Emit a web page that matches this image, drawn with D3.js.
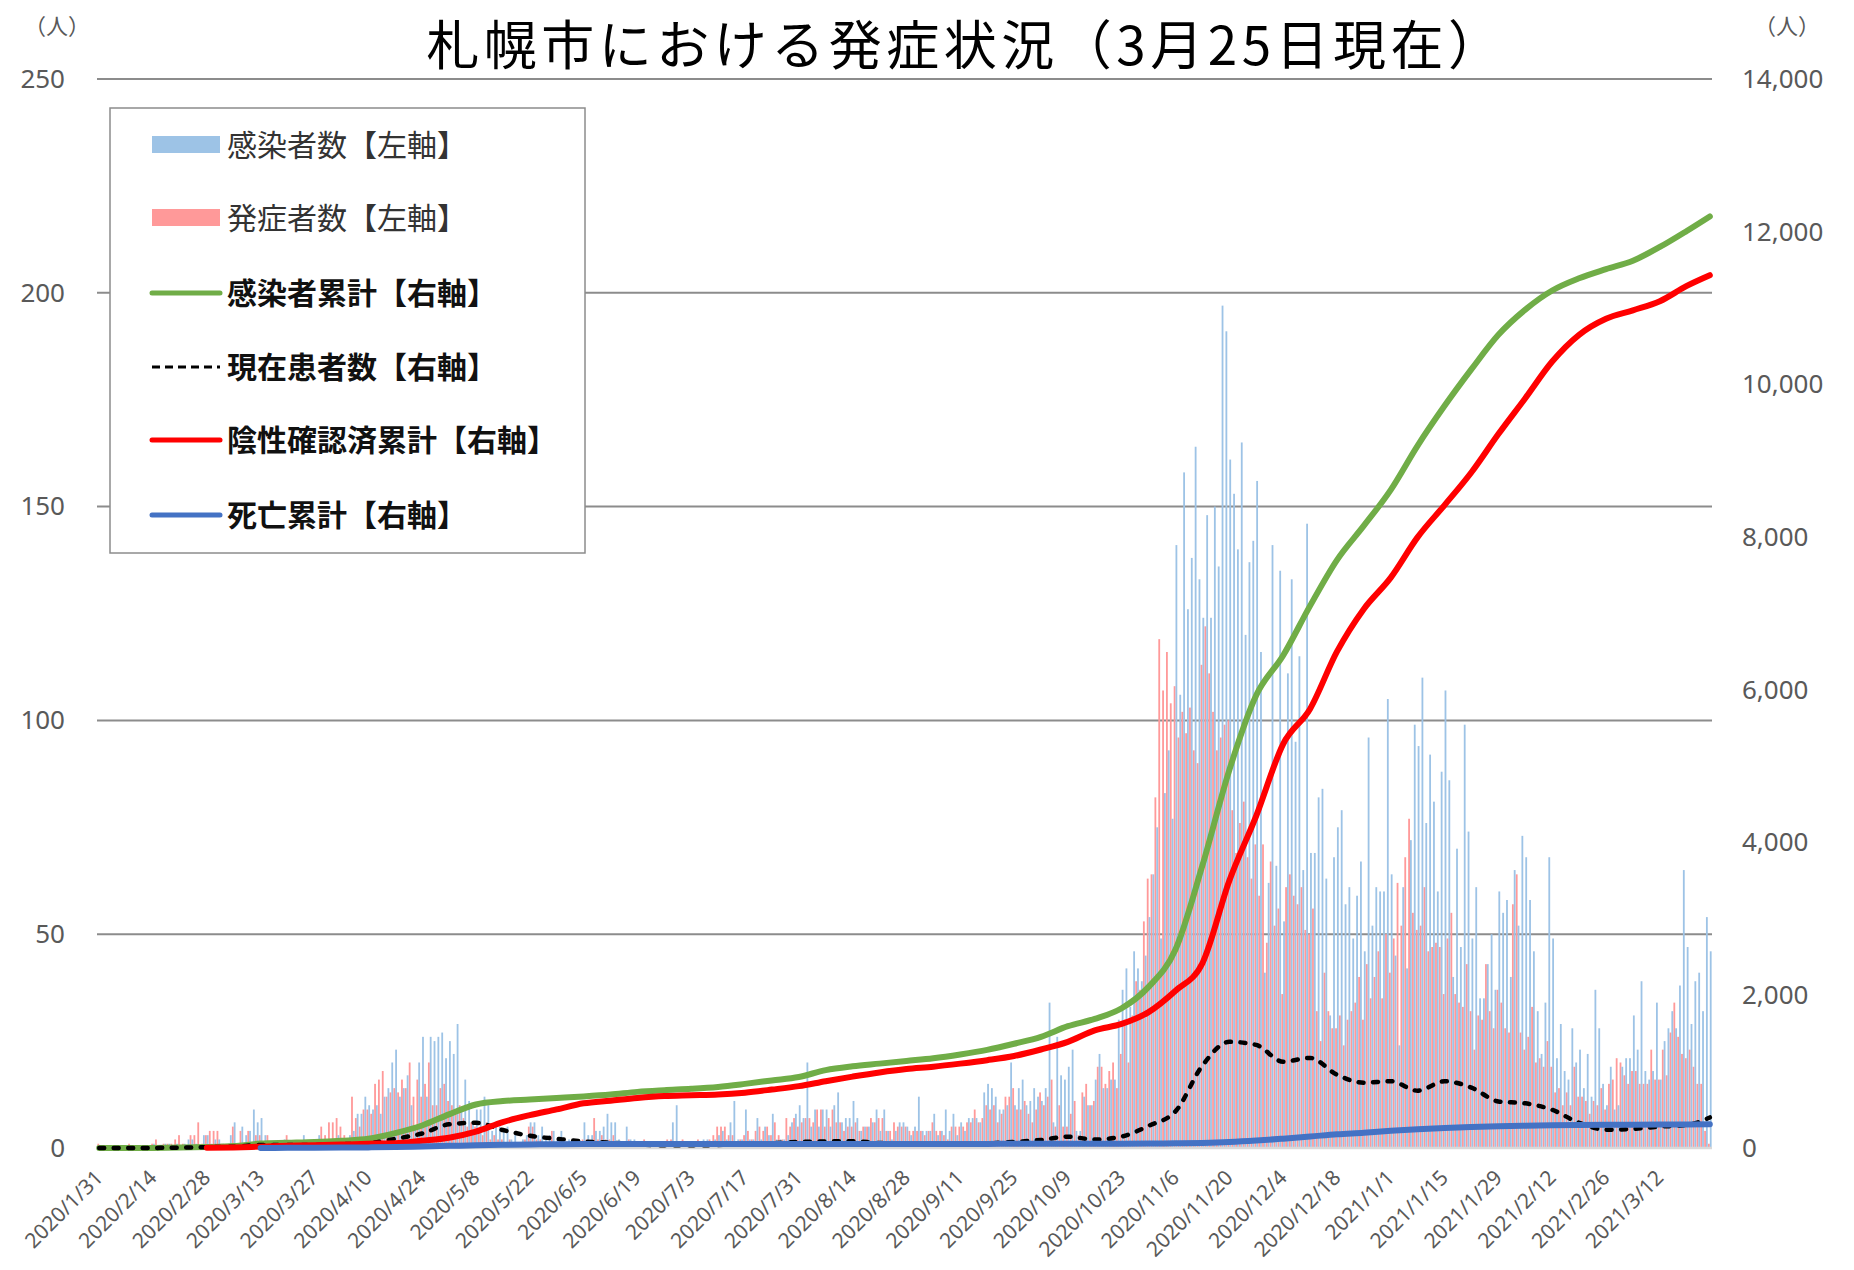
<!DOCTYPE html>
<html><head><meta charset="utf-8">
<script src="https://cdn.jsdelivr.net/npm/d3@7"></script>
<style>body{margin:0;background:#fff}svg{display:block}</style>
</head><body>
<svg id="c" width="1854" height="1270"></svg>
<script>
// ---------------- data ----------------
const titleText = "札幌市における発症状況（3月25日現在）";
const tickLabels = ["2020/1/31","2020/2/14","2020/2/28","2020/3/13","2020/3/27","2020/4/10","2020/4/24","2020/5/8","2020/5/22","2020/6/5","2020/6/19","2020/7/3","2020/7/17","2020/7/31","2020/8/14","2020/8/28","2020/9/11","2020/9/25","2020/10/9","2020/10/23","2020/11/6","2020/11/20","2020/12/4","2020/12/18","2021/1/1","2021/1/15","2021/1/29","2021/2/12","2021/2/26","2021/3/12"];
const leftTicks = [0,50,100,150,200,250];
const rightTicks = [0,2000,4000,6000,8000,10000,12000,14000];

// 感染者数 (daily, left axis) 2020/1/31 .. 2021/3/25
const infected = [
0,0,0,0,0,0,0,0,0,0,0,0,0,0,
1,0,0,1,1,0,1,0,1,2,2,1,0,3,
3,1,2,2,1,0,3,6,1,5,3,4,9,6,
7,3,1,1,0,1,2,0,0,0,1,3,0,0,
0,3,1,2,1,2,3,2,1,3,4,8,8,12,
10,9,10,8,12,14,20,23,12,14,17,10,5,20,
26,12,26,25,26,27,21,25,22,29,9,16,11,6,
9,9,12,10,4,6,5,4,5,2,3,1,2,3,
6,6,3,5,2,3,4,2,4,1,2,1,0,1,
6,3,3,4,4,5,8,6,6,2,1,5,2,2,
0,1,0,0,0,1,0,0,1,6,10,1,0,1,
0,0,1,2,2,1,2,3,4,2,6,11,2,2,
9,2,2,7,2,5,3,8,2,2,2,3,6,8,
10,7,20,5,9,5,9,9,5,10,13,6,7,7,
11,7,4,5,5,6,9,4,9,4,2,4,6,6,
5,3,5,12,4,4,4,8,3,4,9,4,8,3,
6,4,7,7,7,6,13,15,14,12,9,9,10,20,
10,14,16,10,11,14,12,11,14,34,6,26,17,16,
19,23,4,4,12,10,10,16,22,14,14,16,16,30,
37,42,33,46,42,39,45,54,64,75,49,83,93,77,
141,106,158,126,138,164,133,124,148,124,150,136,197,191,
161,153,140,165,120,137,142,156,116,41,62,141,66,135,
53,111,133,95,115,65,146,69,69,82,84,63,31,68,
75,79,57,61,49,59,67,46,96,52,61,60,60,105,
64,45,24,61,42,72,99,94,110,76,92,81,60,88,
107,86,40,70,47,99,74,49,61,35,35,43,50,37,
60,55,58,40,65,52,73,68,58,46,32,22,34,68,
49,21,29,18,16,28,20,23,14,22,12,37,28,15,
10,19,9,10,19,21,21,31,23,39,18,16,18,34,
16,25,28,32,28,38,65,47,29,39,41,32,54,46];

// 発症者数 (daily, left axis)
const onset = [
1,0,0,0,0,0,0,0,1,0,0,0,0,0,
1,2,0,1,1,1,2,3,1,0,3,3,6,1,
3,4,4,4,1,0,1,5,0,4,0,4,0,3,
3,0,3,0,1,0,0,3,0,1,0,0,1,0,
1,0,5,3,6,6,7,5,3,2,12,7,5,9,
9,8,15,16,18,12,13,14,13,16,14,20,12,16,
12,15,20,10,10,14,15,11,10,8,10,7,5,6,
5,4,3,6,2,3,2,2,1,2,1,1,1,2,
5,5,2,2,1,1,4,1,2,1,1,0,1,1,
2,2,1,7,2,3,2,2,3,1,1,1,2,1,
0,0,2,0,0,0,0,1,2,2,1,0,2,0,
0,1,2,1,1,2,3,5,5,5,3,3,1,2,
3,4,2,4,5,4,5,3,6,3,2,7,5,7,
5,6,7,7,6,9,9,5,7,9,6,6,4,5,
5,6,4,5,5,7,6,7,7,4,4,6,5,5,
5,4,4,4,4,3,4,6,4,4,3,2,5,5,
5,5,6,6,9,6,7,10,9,10,6,8,12,12,
14,9,9,11,8,6,9,13,10,12,16,5,10,5,
5,8,11,3,13,15,10,11,19,19,15,18,20,14,
22,30,20,31,39,37,53,63,64,82,119,107,116,104,
108,96,102,97,103,93,90,113,122,111,102,93,96,99,
100,79,69,76,81,68,63,71,59,71,48,67,52,56,
36,61,64,59,57,61,51,50,56,32,25,41,32,28,
28,31,24,30,32,34,40,30,43,35,40,46,35,50,
41,49,62,52,68,77,55,51,52,61,46,47,48,47,
36,49,55,36,34,33,43,32,23,31,30,43,32,28,
37,34,28,27,57,64,27,23,26,33,20,21,19,25,
19,13,14,10,13,10,19,12,12,11,8,11,10,14,
9,15,16,21,20,17,15,18,18,15,15,15,23,16,
16,23,17,27,34,26,22,21,23,19,15,15,4,1];

// cumulative / current series (right axis), sampled weekly + last day
const cumInfected = [0,0,1,5,12,25,58,68,78,95,120,195,295,440,570,615,635,655,675,700,735,757,775,800,840,885,930,1020,1070,1105,1140,1175,1225,1285,1365,1455,1595,1690,1830,2110,2600,3700,4950,5930,6450,7100,7700,8150,8620,9200,9720,10200,10650,10980,11230,11390,11510,11620,11800,12010,12200];
const currentPatients = [0,0,1,5,10,17,40,40,40,50,63,120,190,310,330,235,160,120,85,70,50,35,35,40,55,65,80,85,90,65,60,52,52,60,80,105,148,110,150,290,480,1080,1390,1350,1130,1180,960,855,875,750,875,790,610,585,500,330,240,250,280,300,400];
const cumRecovered = [null,null,null,null,3,8,18,28,36,45,55,63,96,135,215,340,430,505,585,620,655,680,690,700,725,765,810,875,935,990,1035,1065,1105,1150,1205,1290,1390,1540,1625,1780,2060,2420,3500,4350,5290,5750,6500,7060,7470,8000,8420,8850,9350,9820,10300,10650,10860,10970,11090,11290,11430];
const cumDeaths = [null,null,null,null,null,null,1,2,3,5,8,12,20,28,35,42,47,50,52,53,53,53,53,53,53,53,53,54,54,54,54,54,54,54,55,55,55,56,56,58,62,67,78,97,122,150,180,200,225,245,262,275,285,292,298,302,305,306,307,309,312];

// ---------------- chart ----------------
const M = {left: 97, right: 1712, top: 79, bottom: 1148};
const svg = d3.select('#c');
const fmt = d3.timeFormat('%Y/%-m/%-d');
const categories = d3.timeDay.range(new Date(2020,0,31), new Date(2021,2,26)).map(fmt);
const lineDates = categories.filter((c,i) => i % 7 === 0 || i === categories.length - 1);

const x = d3.scaleBand().domain(categories).range([M.left, M.right]).paddingInner(0.06).paddingOuter(0.1);
const xs = d3.scaleBand().domain(['onset','infected']).range([0, x.bandwidth()]);
const yL = d3.scaleLinear().domain([0,250]).range([M.bottom, M.top]);
const yR = d3.scaleLinear().domain([0,14000]).range([M.bottom, M.top]);

const numFont = "'Noto Sans', 'DejaVu Sans', sans-serif";
const jpFont = "'Noto Sans CJK JP', 'Noto Sans', sans-serif";

// gridlines
svg.append('g').selectAll('line').data(leftTicks.filter(d => d > 0)).join('line')
  .attr('x1', M.left).attr('x2', M.right)
  .attr('y1', d => yL(d)).attr('y2', d => yL(d))
  .attr('stroke', '#8c8c8c').attr('stroke-width', 2);

// bars
const barData = [
  {key:'onset', color:'#FF9999', vals: onset},
  {key:'infected', color:'#9DC3E6', vals: infected}
];
barData.forEach(s => {
  svg.append('g').selectAll('rect')
    .data(categories.map((c,i) => ({c, v: s.vals[i]})).filter(d => d.v > 0))
    .join('rect')
    .attr('x', d => x(d.c) + xs(s.key))
    .attr('width', xs.bandwidth())
    .attr('y', d => yL(d.v))
    .attr('height', d => yL(0) - yL(d.v))
    .attr('fill', s.color);
});

// baseline
svg.append('line').attr('x1', M.left).attr('x2', M.right)
  .attr('y1', M.bottom).attr('y2', M.bottom)
  .attr('stroke', '#d9d9d9').attr('stroke-width', 2.5);

// lines
const lineGen = d3.line()
  .defined(d => d.v !== null)
  .curve(d3.curveMonotoneX)
  .x(d => x(d.c) + x.bandwidth()/2)
  .y(d => yR(d.v));
const lines = [
  {vals: cumInfected, color:'#70AD47', w:6, dash:null, cap:'round'},
  {vals: currentPatients, color:'#000000', w:4.5, dash:'5,9.5', cap:'round'},
  {vals: cumRecovered, color:'#FF0000', w:6, dash:null, cap:'round'},
  {vals: cumDeaths, color:'#4472C4', w:6, dash:null, cap:'round'}
];
lines.forEach(s => {
  svg.append('path')
    .datum(lineDates.map((c,i) => ({c, v: s.vals[i]})))
    .attr('d', lineGen)
    .attr('fill', 'none')
    .attr('stroke', s.color)
    .attr('stroke-width', s.w)
    .attr('stroke-linejoin', 'round')
    .attr('stroke-linecap', s.cap)
    .attr('stroke-dasharray', s.dash);
});

// axes
const axL = svg.append('g').attr('transform', `translate(${M.left},0)`)
  .call(d3.axisLeft(yL).tickValues(leftTicks).tickSize(0).tickPadding(32));
const axR = svg.append('g').attr('transform', `translate(${M.right},0)`)
  .call(d3.axisRight(yR).tickValues(rightTicks).tickFormat(d3.format(',')).tickSize(0).tickPadding(30));
[axL, axR].forEach(a => {
  a.select('.domain').remove();
  a.selectAll('text').attr('fill', '#595959').style('font-family', numFont).style('font-size', '26px');
});

const axB = svg.append('g').attr('transform', `translate(0,${M.bottom})`)
  .call(d3.axisBottom(x).tickValues(tickLabels).tickSize(0));
axB.select('.domain').remove();
axB.selectAll('text')
  .attr('x', 0).attr('y', 0).attr('dy', 0)
  .attr('transform', 'translate(5,31) rotate(-45)')
  .attr('text-anchor', 'end')
  .attr('fill', '#595959')
  .style('font-family', numFont).style('font-size', '21px');

// unit labels
svg.append('text').attr('x', 57).attr('y', 34).attr('text-anchor', 'middle')
  .attr('fill', '#595959').style('font-family', jpFont).style('font-size', '22px').text('（人）');
svg.append('text').attr('x', 1787).attr('y', 34).attr('text-anchor', 'middle')
  .attr('fill', '#595959').style('font-family', jpFont).style('font-size', '22px').text('（人）');

// title
svg.append('text').attr('x', 966).attr('y', 65).attr('text-anchor', 'middle')
  .attr('fill', '#000').style('font-family', jpFont).style('font-size', '53px')
  .style('letter-spacing', '4.5px').text(titleText);

// legend
const legend = [
  {label:'感染者数【左軸】', type:'rect', color:'#9DC3E6', bold:false},
  {label:'発症者数【左軸】', type:'rect', color:'#FF9999', bold:false},
  {label:'感染者累計【右軸】', type:'line', color:'#70AD47', bold:true},
  {label:'現在患者数【右軸】', type:'dash', color:'#000000', bold:true},
  {label:'陰性確認済累計【右軸】', type:'line', color:'#FF0000', bold:true},
  {label:'死亡累計【右軸】', type:'line', color:'#4472C4', bold:true}
];
const lg = svg.append('g');
lg.append('rect').attr('x', 110).attr('y', 108).attr('width', 475).attr('height', 445)
  .attr('fill', '#fff').attr('stroke', '#8c8c8c').attr('stroke-width', 1.5);
const rowY = [145, 218, 293, 367, 440, 515];
legend.forEach((it, i) => {
  const cy = rowY[i];
  if (it.type === 'rect') {
    lg.append('rect').attr('x', 152).attr('y', cy - 9).attr('width', 68).attr('height', 17).attr('fill', it.color);
  } else {
    lg.append('line').attr('x1', 152).attr('x2', 220).attr('y1', cy).attr('y2', cy)
      .attr('stroke', it.color).attr('stroke-width', it.type === 'dash' ? 3 : 5)
      .attr('stroke-linecap', it.type === 'dash' ? 'butt' : 'round')
      .attr('stroke-dasharray', it.type === 'dash' ? '8,5' : null);
  }
  lg.append('text').attr('x', 227).attr('y', cy).attr('dy', '0.36em')
    .attr('fill', it.bold ? '#111' : '#333')
    .style('font-family', jpFont).style('font-size', '30px')
    .style('font-weight', it.bold ? 700 : 400)
    .text(it.label);
});
</script>
</body></html>
